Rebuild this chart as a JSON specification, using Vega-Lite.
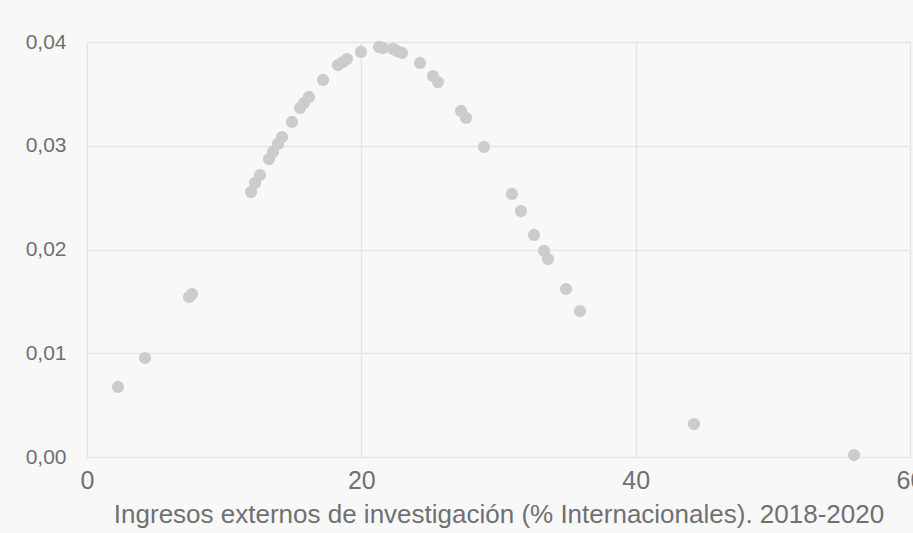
{
  "$schema": "https://vega.github.io/schema/vega-lite/v6.json",
  "width": 823,
  "height": 415,
  "autosize": {"type": "none"},
  "padding": {"left": 87, "top": 42, "right": 3, "bottom": 76},
  "background": "#f9f8f9",
  "config": {
    "locale": {"number": {"decimal": ",", "thousands": ".", "grouping": [3], "currency": ["", " €"]}},
    "view": {"stroke": null},
    "font": "Liberation Sans"
  },
  "data": {
    "values": [
      {"x": 2.26, "y": 0.00675},
      {"x": 4.23, "y": 0.00954},
      {"x": 7.44, "y": 0.01542},
      {"x": 7.65, "y": 0.01571},
      {"x": 11.96, "y": 0.02554},
      {"x": 12.25, "y": 0.02641},
      {"x": 12.61, "y": 0.02718},
      {"x": 13.27, "y": 0.02872},
      {"x": 13.56, "y": 0.0294},
      {"x": 13.92, "y": 0.03017},
      {"x": 14.22, "y": 0.03084},
      {"x": 14.94, "y": 0.03229},
      {"x": 15.53, "y": 0.03364},
      {"x": 15.82, "y": 0.03412},
      {"x": 16.18, "y": 0.0347},
      {"x": 17.21, "y": 0.03634},
      {"x": 18.3, "y": 0.03778},
      {"x": 18.66, "y": 0.03807},
      {"x": 18.95, "y": 0.03836},
      {"x": 19.97, "y": 0.03904},
      {"x": 21.29, "y": 0.03952},
      {"x": 21.58, "y": 0.03942},
      {"x": 22.31, "y": 0.03933},
      {"x": 22.6, "y": 0.03913},
      {"x": 22.96, "y": 0.03894},
      {"x": 24.28, "y": 0.03798},
      {"x": 25.22, "y": 0.03672},
      {"x": 25.59, "y": 0.03614},
      {"x": 27.27, "y": 0.03335},
      {"x": 27.63, "y": 0.03268},
      {"x": 28.94, "y": 0.02988},
      {"x": 30.98, "y": 0.02535},
      {"x": 31.64, "y": 0.02371},
      {"x": 32.59, "y": 0.0214},
      {"x": 33.32, "y": 0.01986},
      {"x": 33.61, "y": 0.01908},
      {"x": 34.92, "y": 0.01619},
      {"x": 35.94, "y": 0.01407},
      {"x": 44.25, "y": 0.00318},
      {"x": 55.92, "y": 0.00019}
    ]
  },
  "mark": {"type": "circle", "size": 150, "color": "#cccccc", "opacity": 1},
  "encoding": {
    "x": {
      "field": "x",
      "type": "quantitative",
      "scale": {"domain": [0, 60], "nice": false, "zero": false},
      "axis": {
        "values": [0, 20, 40, 60],
        "title": "Ingresos externos de investigación (% Internacionales). 2018-2020",
        "titleFont": "Liberation Sans",
        "titleFontSize": 26,
        "titleFontWeight": "normal",
        "titleColor": "#707070",
        "titlePadding": 8,
        "labelFont": "Liberation Sans",
        "labelFontSize": 25,
        "labelColor": "#707070",
        "labelPadding": 11,
        "ticks": false,
        "domain": false,
        "grid": true,
        "gridColor": "#e6e5e6",
        "gridWidth": 1.5,
        "labelFlush": false,
        "labelOverlap": false
      }
    },
    "y": {
      "field": "y",
      "type": "quantitative",
      "scale": {"domain": [0, 0.04], "nice": false},
      "axis": {
        "values": [0, 0.01, 0.02, 0.03, 0.04],
        "format": ".2f",
        "title": null,
        "labelFont": "Liberation Sans",
        "labelFontSize": 21,
        "labelColor": "#707070",
        "labelPadding": 21,
        "ticks": false,
        "domain": false,
        "grid": true,
        "gridColor": "#e6e5e6",
        "gridWidth": 1.5,
        "labelFlush": false,
        "labelOverlap": false
      }
    }
  }
}
